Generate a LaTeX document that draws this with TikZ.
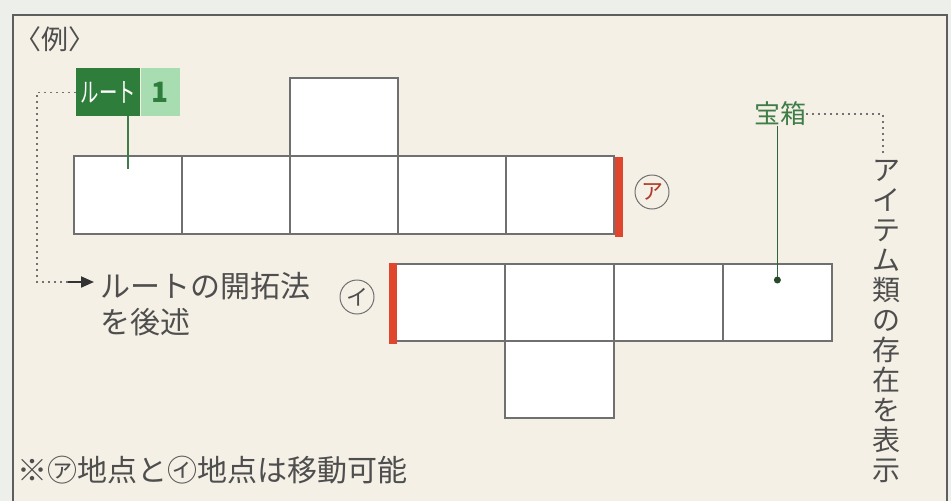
\documentclass[tikz,border=0pt]{standalone}
\usepackage{fontspec}
\setmainfont{Noto Sans CJK JP}
\usetikzlibrary{calc,arrows.meta}
\definecolor{bgout}{HTML}{EDEFEA}
\definecolor{bgin}{HTML}{F4F0E6}
\definecolor{framec}{HTML}{5E5E5E}
\definecolor{cellline}{HTML}{707070}
\definecolor{txt}{HTML}{4E4E4E}
\definecolor{dkgreen}{HTML}{2E7D3A}
\definecolor{ltgreen}{HTML}{A8DDB2}
\definecolor{hgreen}{HTML}{3F7D48}
\definecolor{redbar}{HTML}{E0452E}
\definecolor{redtxt}{HTML}{B03A2A}
\begin{document}
\begin{tikzpicture}[x=1pt,y=-1pt,
  cell/.style={draw=cellline, line width=1.8pt, fill=white, minimum width=108pt, minimum height=78pt, inner sep=0pt, anchor=north west},
  cellb/.style={cell, minimum width=109pt, minimum height=77pt},
  redmark/.style={draw=redbar, line width=8pt},
  dotline/.style={draw=txt!80, line width=1.2pt, dash pattern=on 2pt off 4pt},
  circlbl/.style={circle, draw=txt!80, line width=1pt, minimum size=34pt, inner sep=0pt, font=\fontsize{22}{22}\selectfont},
  jtext/.style={text=txt, inner sep=0pt},
  leader/.style={draw=hgreen, line width=2pt}]
\useasboundingbox (0,0) rectangle (951,501);
\fill[bgout] (0,0) rectangle (951,501);
\fill[bgin] (13,15) rectangle (947,501);
\draw[framec, line width=2pt] (13,501) -- (13,15) -- (947,15) -- (947,501);

% title
\node[jtext, anchor=west, font=\fontsize{27}{27}\selectfont] (rei) at (14,39) {〈例〉};

% row 1
\node[cell] (a0) at (289,77) {};
\node[cell] (a1) at (73,155) {};
\node[cell] (a2) at (181,155) {};
\node[cell] (a3) at (289,155) {};
\node[cell] (a4) at (397,155) {};
\node[cell] (a5) at (505,155) {};
\draw[redmark] ($(a5.north east)+(4,2)$) -- ($(a5.south east)+(4,2)$);

% row 2
\node[cellb] (b1) at (395,263) {};
\node[cellb] (b2) at (504,263) {};
\node[cellb] (b3) at (613,263) {};
\node[cellb] (b4) at (722,263) {};
\node[cellb] (b5) at (504,340) {};
\draw[redmark] ($(b1.north west)+(-2,0)$) -- ($(b1.south west)+(-2,2)$);

% route label
\node[fill=dkgreen, text=white, anchor=north west, minimum width=64pt, minimum height=48pt, inner sep=0pt, font=\fontsize{27}{27}\selectfont] (lbl) at (76,68) {\scalebox{0.68}[1]{ルート}};
\node[fill=ltgreen, text=dkgreen, anchor=north west, minimum width=39pt, minimum height=48pt, inner sep=0pt, font=\fontsize{28}{28}\selectfont\bfseries] (lbn) at (lbl.north east) {1};
\coordinate (a1tip) at ($(a1.north)+(0,14)$);
\draw[leader] (lbl.south -| a1tip) -- (a1tip);

% treasure label
\node[jtext, text=hgreen, font=\fontsize{26}{26}\selectfont] (hako) at (780,114) {宝箱};
\coordinate (hdot) at ($(b4.north)+(0,17)$);
\draw[leader, draw=hgreen!80!black, line width=1.8pt] (hako.south -| hdot) -- (hdot);
\fill[hgreen!60!black] (hdot) circle (3.5pt);

% vertical text
\node[jtext, anchor=north, align=center, font=\fontsize{28}{30}\selectfont] (vt) at (886,160)
  {ア\\イ\\テ\\ム\\類\\の\\存\\在\\を\\表\\示};
\draw[dotline] (hako.east) -| ($(vt.north)+(-3,-6)$) coordinate (vtop);

% left note
\node[jtext, anchor=north west, align=left, font=\fontsize{30}{36}\selectfont] (kai) at (100,272) {ルートの開拓法\\を後述};
\coordinate (lc) at (37,282);
\coordinate (ast) at (68,282);
\coordinate (ahd) at (94,282);
\draw[dotline] (lbl.west) -| (lc) -- (ast);
\draw[draw=black!80, line width=2pt, -{Triangle[length=13pt,width=11pt]}] (ast) -- (ahd);

% circled marks
\node[circlbl, text=redtxt] (ca) at (652,192) {ア};
\node[circlbl, text=txt] (ci) at (357,297) {イ};

% footer
\node[jtext, anchor=west, font=\fontsize{30}{30}\selectfont] (foot) at (17,470) {※㋐地点と㋑地点は移動可能};
\end{tikzpicture}
\end{document}
